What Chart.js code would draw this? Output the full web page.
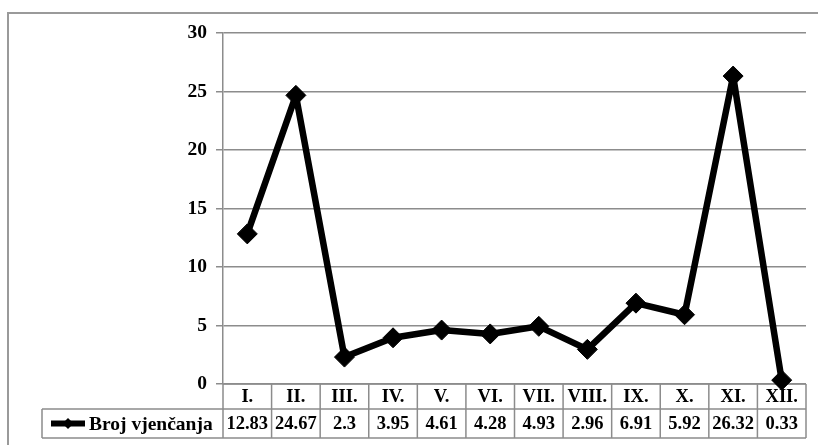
<!DOCTYPE html>
<html>
<head>
<meta charset="utf-8">
<script src="https://cdn.jsdelivr.net/npm/chart.js@4.4.1/dist/chart.umd.min.js"></script>
<style>
html,body{margin:0;padding:0;background:#fff;}
#wrap{width:818px;height:445px;position:relative;}
</style>
</head>
<body>
<div id="wrap"><canvas id="c" width="818" height="445"></canvas></div>
<script>
const categories = ["I.","II.","III.","IV.","V.","VI.","VII.","VIII.","IX.","X.","XI.","XII."];
const seriesName = "Broj vjenčanja";
const values = [12.83,24.67,2.3,3.95,4.61,4.28,4.93,2.96,6.91,5.92,26.32,0.33];
const valueLabels = ["12.83","24.67","2.3","3.95","4.61","4.28","4.93","2.96","6.91","5.92","26.32","0.33"];
const yTicks = [0,5,10,15,20,25,30];

const FONT = '"Liberation Serif","Times New Roman",serif';
const GRID = '#8c8c8c';

const frame = {
  id: 'frame',
  beforeDraw(chart) {
    const ctx = chart.ctx;
    ctx.save();
    ctx.strokeStyle = '#9a9a9a';
    ctx.lineWidth = 2;
    ctx.beginPath();
    ctx.moveTo(8, 445);
    ctx.lineTo(8, 13);
    ctx.lineTo(818, 13);
    ctx.stroke();
    ctx.restore();
  }
};

const dataTable = {
  id: 'dataTable',
  beforeDatasetsDraw(chart) {
    const ctx = chart.ctx;
    const xs = chart.scales.x;
    const area = chart.chartArea;
    const left = area.left, right = area.right;
    const top = area.bottom;
    const mid = top + 25;
    const bot = top + 54;
    const legLeft = 42;
    const n = categories.length;
    const w = (right - left) / n;
    ctx.save();
    ctx.strokeStyle = GRID;
    ctx.lineWidth = 1.5;
    ctx.beginPath();
    ctx.moveTo(left, top); ctx.lineTo(right, top);
    ctx.moveTo(legLeft, mid); ctx.lineTo(right, mid);
    ctx.moveTo(legLeft, bot); ctx.lineTo(right, bot);
    ctx.moveTo(legLeft, mid); ctx.lineTo(legLeft, bot);
    for (let i = 0; i <= n; i++) {
      const x = left + i * w;
      ctx.moveTo(x, top); ctx.lineTo(x, bot);
    }
    ctx.stroke();
    ctx.fillStyle = '#000';
    ctx.font = 'bold 18.5px ' + FONT;
    ctx.textAlign = 'center';
    ctx.textBaseline = 'middle';
    for (let i = 0; i < n; i++) {
      const cx = xs.getPixelForValue(i);
      ctx.fillText(categories[i], cx, (top + mid) / 2 + 1);
      ctx.fillText(valueLabels[i], cx, (mid + bot) / 2 + 1);
    }
    const ly = (mid + bot) / 2;
    ctx.fillRect(51, ly - 3, 34, 6);
    ctx.beginPath();
    ctx.moveTo(68 - 5.5, ly); ctx.lineTo(68, ly - 5.5); ctx.lineTo(68 + 5.5, ly); ctx.lineTo(68, ly + 5.5);
    ctx.closePath(); ctx.fill();
    ctx.font = 'bold 19.5px ' + FONT;
    ctx.textAlign = 'left';
    ctx.fillText(seriesName, 89, ly + 1);
    ctx.restore();
  }
};

new Chart(document.getElementById('c'), {
  type: 'line',
  data: {
    labels: categories,
    datasets: [{
      label: seriesName,
      data: values,
      borderColor: '#000',
      backgroundColor: '#000',
      borderWidth: 6.5,
      borderJoinStyle: 'round',
      borderCapStyle: 'round',
      pointStyle: 'rectRot',
      pointRadius: 10,
      pointBorderWidth: 1,
      pointBackgroundColor: '#000',
      pointBorderColor: '#000',
      tension: 0,
      clip: false
    }]
  },
  options: {
    responsive: false,
    animation: false,
    layout: { padding: { top: 33, right: 12, bottom: 61, left: 0 } },
    plugins: { legend: { display: false }, tooltip: { enabled: false } },
    scales: {
      x: { type: 'category', offset: true, display: false },
      y: {
        min: 0, max: 30,
        afterFit(scale) { scale.width = 223; },
        afterBuildTicks(scale) { scale.ticks = yTicks.map(v => ({ value: v })); },
        grid: { color: GRID, lineWidth: 1.5, tickLength: 7, drawTicks: true },
        border: { display: true, color: GRID, width: 1.5 },
        ticks: {
          color: '#000',
          padding: 9,
          font: { family: FONT, size: 19.5, weight: 'bold' }
        }
      }
    }
  },
  plugins: [frame, dataTable]
});
</script>
</body>
</html>
